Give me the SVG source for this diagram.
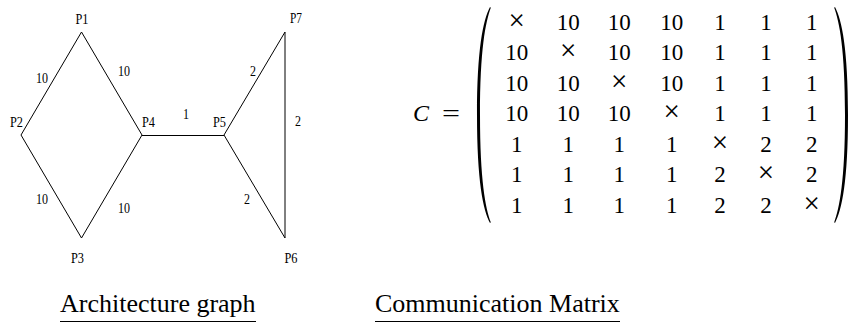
<svg xmlns="http://www.w3.org/2000/svg" width="848" height="323" viewBox="0 0 848 323">
<style>
.lbl{font-family:"Liberation Serif","Times New Roman",serif;font-size:15px;fill:#000}
.edge{stroke:#000;stroke-width:1;fill:none}
.m{font-family:"Liberation Serif","Times New Roman",serif;font-size:23px;fill:#000;text-anchor:middle}
.x{font-size:29px}
.cap{font-family:"Liberation Serif","Times New Roman",serif;font-size:26px;fill:#000}
.ul{stroke:#000;stroke-width:1.2}
</style>
<defs>
<path id="paren" d="M490,7 C483,20 477,50 477,115 C477,180 483,210 490,223 L490.8,222.3 C485.5,208 480,180 480,115 C480,50 485.5,22 490.8,7.7 Z" fill="#000"/>
</defs>
<rect width="848" height="323" fill="#fff"/>
<g id="connectors">
<line class="edge" x1="81.5" y1="32" x2="21" y2="135"/>
<line class="edge" x1="81.5" y1="32" x2="142" y2="135"/>
<line class="edge" x1="21" y1="135" x2="81.5" y2="238"/>
<line class="edge" x1="81.5" y1="238" x2="142" y2="135"/>
<line class="edge" x1="142" y1="135.5" x2="224" y2="135.5"/>
<line class="edge" x1="224" y1="135" x2="285" y2="32"/>
<line class="edge" x1="224" y1="135" x2="285" y2="238"/>
<line class="edge" x1="285" y1="32" x2="285" y2="238"/>
<text class="lbl" x="36" y="83" textLength="12" lengthAdjust="spacingAndGlyphs">10</text>
<text class="lbl" x="118" y="76" textLength="12" lengthAdjust="spacingAndGlyphs">10</text>
<text class="lbl" x="36" y="204" textLength="12" lengthAdjust="spacingAndGlyphs">10</text>
<text class="lbl" x="118" y="213" textLength="12" lengthAdjust="spacingAndGlyphs">10</text>
<text class="lbl" x="183" y="119" textLength="6" lengthAdjust="spacingAndGlyphs">1</text>
<text class="lbl" x="250" y="76" textLength="6" lengthAdjust="spacingAndGlyphs">2</text>
<text class="lbl" x="295" y="126" textLength="6" lengthAdjust="spacingAndGlyphs">2</text>
<text class="lbl" x="244" y="204" textLength="6" lengthAdjust="spacingAndGlyphs">2</text>
</g>
<g id="P1"><text class="lbl" x="75.5" y="24" textLength="13" lengthAdjust="spacingAndGlyphs">P1</text></g>
<g id="P2"><text class="lbl" x="10" y="127" textLength="13" lengthAdjust="spacingAndGlyphs">P2</text></g>
<g id="P3"><text class="lbl" x="71" y="263" textLength="13" lengthAdjust="spacingAndGlyphs">P3</text></g>
<g id="P4"><text class="lbl" x="142" y="127" textLength="13" lengthAdjust="spacingAndGlyphs">P4</text></g>
<g id="P5"><text class="lbl" x="213" y="127" textLength="13" lengthAdjust="spacingAndGlyphs">P5</text></g>
<g id="P6"><text class="lbl" x="284.5" y="263" textLength="13" lengthAdjust="spacingAndGlyphs">P6</text></g>
<g id="P7"><text class="lbl" x="290" y="23" textLength="12" lengthAdjust="spacingAndGlyphs">P7</text></g>
<g id="matrix">
<text x="413" y="121" style="font-family:'Liberation Serif','Times New Roman',serif;font-size:24px;font-style:italic">C</text>
<text x="442" y="121" textLength="18" lengthAdjust="spacingAndGlyphs" style="font-family:'Liberation Serif','Times New Roman',serif;font-size:24px">=</text>
<use href="#paren"/>
<use href="#paren" transform="translate(1325,0) scale(-1,1)"/>
<g class="m">
<text x="516.7" y="29.5" class="m x">×</text><text x="568.3" y="29.5">10</text><text x="619.3" y="29.5">10</text><text x="671.7" y="29.5">10</text><text x="720" y="29.5">1</text><text x="766" y="29.5">1</text><text x="811.7" y="29.5">1</text>
<text x="516.7" y="60">10</text><text x="568.3" y="60" class="m x">×</text><text x="619.3" y="60">10</text><text x="671.7" y="60">10</text><text x="720" y="60">1</text><text x="766" y="60">1</text><text x="811.7" y="60">1</text>
<text x="516.7" y="90.5">10</text><text x="568.3" y="90.5">10</text><text x="619.3" y="90.5" class="m x">×</text><text x="671.7" y="90.5">10</text><text x="720" y="90.5">1</text><text x="766" y="90.5">1</text><text x="811.7" y="90.5">1</text>
<text x="516.7" y="121">10</text><text x="568.3" y="121">10</text><text x="619.3" y="121">10</text><text x="671.7" y="121" class="m x">×</text><text x="720" y="121">1</text><text x="766" y="121">1</text><text x="811.7" y="121">1</text>
<text x="516.7" y="151.5">1</text><text x="568.3" y="151.5">1</text><text x="619.3" y="151.5">1</text><text x="671.7" y="151.5">1</text><text x="720" y="151.5" class="m x">×</text><text x="766" y="151.5">2</text><text x="811.7" y="151.5">2</text>
<text x="516.7" y="182">1</text><text x="568.3" y="182">1</text><text x="619.3" y="182">1</text><text x="671.7" y="182">1</text><text x="720" y="182">2</text><text x="766" y="182" class="m x">×</text><text x="811.7" y="182">2</text>
<text x="516.7" y="212.5">1</text><text x="568.3" y="212.5">1</text><text x="619.3" y="212.5">1</text><text x="671.7" y="212.5">1</text><text x="720" y="212.5">2</text><text x="766" y="212.5">2</text><text x="811.7" y="212.5" class="m x">×</text>
</g>
</g>
<g id="captions">
<text class="cap" x="60" y="311.5">Architecture graph</text>
<line class="ul" x1="60" y1="321.5" x2="256" y2="321.5"/>
<text class="cap" x="375" y="311.5">Communication Matrix</text>
<line class="ul" x1="375" y1="321.5" x2="620" y2="321.5"/>
</g>
</svg>
